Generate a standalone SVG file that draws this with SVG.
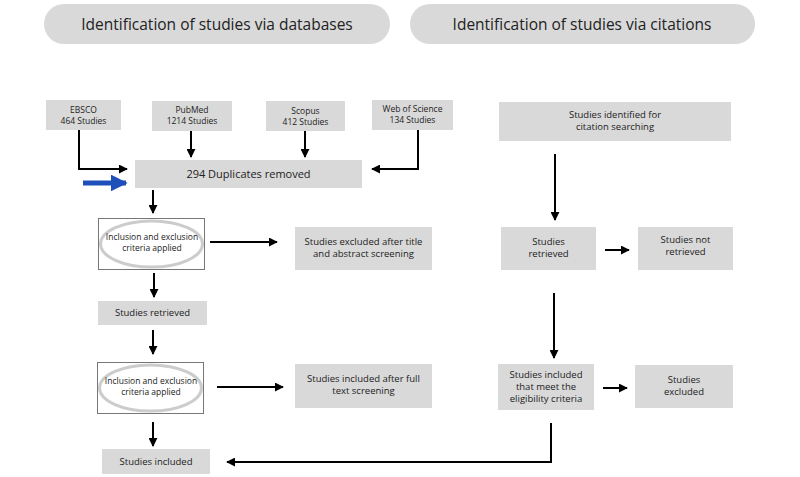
<svg xmlns="http://www.w3.org/2000/svg" width="800" height="477" viewBox="0 0 800 477">
<style>
.box{fill:#d9d9d9}
.pill{fill:#d9d9d9}
text{font-family:"Open Sans","Noto Sans",sans-serif;fill:#222;text-anchor:middle}
.h{font-size:15.5px}
.s{font-size:8.5px}
.m{font-size:9.5px}
.d{font-size:11px}
.ln{stroke:#000;stroke-width:2;fill:none}
.ol{fill:#fff;stroke:#777;stroke-width:1}
.el{fill:none;stroke:#ccc;stroke-width:3}
</style>
<defs>
<marker id="ah" viewBox="0 0 10 10" refX="9" refY="5" markerWidth="4.5" markerHeight="4.5" orient="auto" markerUnits="strokeWidth">
<path d="M0,0 L10,5 L0,10 z" fill="#000"/>
</marker>
<marker id="bh" viewBox="0 0 10 10" refX="9" refY="5" markerWidth="3.4" markerHeight="3.4" orient="auto" markerUnits="strokeWidth">
<path d="M0,0 L10,5 L0,10 z" fill="#1f4fb8"/>
</marker>
</defs>
<rect width="800" height="477" fill="#fff"/>
<g id="hdr-db"><rect class="pill" x="44" y="4" width="346" height="40" rx="20"/><text class="h" x="217" y="30">Identification of studies via databases</text></g>
<g id="hdr-cit"><rect class="pill" x="410" y="4" width="345" height="40" rx="20"/><text class="h" x="582" y="30">Identification of studies via citations</text></g>

<g id="ebsco"><rect class="box" x="46" y="100" width="75" height="30"/><text class="s" x="83.5" y="113">EBSCO</text><text class="s" x="83.5" y="124">464 Studies</text></g>
<g id="pubmed"><rect class="box" x="152" y="101" width="80" height="30"/><text class="s" x="192" y="113">PubMed</text><text class="s" x="192" y="124">1214 Studies</text></g>
<g id="scopus"><rect class="box" x="266" y="101" width="79" height="30"/><text class="s" x="305.5" y="114">Scopus</text><text class="s" x="305.5" y="125">412 Studies</text></g>
<g id="wos"><rect class="box" x="372" y="100" width="81" height="30"/><text class="s" x="412.5" y="112">Web of Science</text><text class="s" x="412.5" y="123">134 Studies</text></g>
<g id="dup"><rect class="box" x="135" y="160" width="227" height="28"/><text class="d" x="248.5" y="178">294 Duplicates removed</text></g>

<g id="crit1"><rect class="ol" x="98.5" y="218.5" width="106" height="51"/><ellipse class="el" cx="151.5" cy="244" rx="51" ry="23"/><text class="s" x="152" y="240">Inclusion and exclusion</text><text class="s" x="152" y="251">criteria applied</text></g>
<g id="excl1"><rect class="box" x="295" y="227" width="137" height="43"/><text class="m" x="363.5" y="245">Studies excluded after title</text><text class="m" x="363.5" y="257">and abstract screening</text></g>
<g id="retr"><rect class="box" x="98" y="301" width="109" height="24"/><text class="m" x="152.5" y="316">Studies retrieved</text></g>
<g id="crit2"><rect class="ol" x="97.5" y="362.5" width="106" height="51"/><ellipse class="el" cx="150.5" cy="388" rx="51" ry="23"/><text class="s" x="151" y="384">Inclusion and exclusion</text><text class="s" x="151" y="395">criteria applied</text></g>
<g id="incl-full"><rect class="box" x="295" y="364" width="137" height="44"/><text class="m" x="363.5" y="382">Studies included after full</text><text class="m" x="363.5" y="394">text screening</text></g>
<g id="incl"><rect class="box" x="102" y="449" width="108" height="25"/><text class="m" x="156" y="465">Studies included</text></g>

<g id="cit"><rect class="box" x="499" y="102" width="232" height="39"/><text class="m" x="615" y="118">Studies identified for</text><text class="m" x="615" y="130">citation searching</text></g>
<g id="cretr"><rect class="box" x="501" y="227" width="95" height="43"/><text class="m" x="548.5" y="245">Studies</text><text class="m" x="548.5" y="257">retrieved</text></g>
<g id="cnot"><rect class="box" x="638" y="227" width="95" height="43"/><text class="m" x="685.5" y="243">Studies not</text><text class="m" x="685.5" y="255">retrieved</text></g>
<g id="celig"><rect class="box" x="498" y="364" width="96" height="46"/><text class="m" x="546" y="378">Studies included</text><text class="m" x="546" y="390">that meet the</text><text class="m" x="546" y="402">eligibility criteria</text></g>
<g id="cexcl"><rect class="box" x="635" y="365" width="98" height="43"/><text class="m" x="684" y="383">Studies</text><text class="m" x="684" y="395">excluded</text></g>

<g id="connectors">
<path class="ln" d="M79,130 V169 H127" marker-end="url(#ah)"/>
<path class="ln" d="M191,131 V157" marker-end="url(#ah)"/>
<path class="ln" d="M305,131 V157" marker-end="url(#ah)"/>
<path class="ln" d="M418,130 V169 H372" marker-end="url(#ah)"/>
<path d="M83,183 H126" stroke="#1f4fb8" stroke-width="5" fill="none" marker-end="url(#bh)"/>
<path class="ln" d="M153,190 V213" marker-end="url(#ah)"/>
<path class="ln" d="M210,242 H277" marker-end="url(#ah)"/>
<path class="ln" d="M154,273 V297" marker-end="url(#ah)"/>
<path class="ln" d="M153,330 V354" marker-end="url(#ah)"/>
<path class="ln" d="M217,387 H283" marker-end="url(#ah)"/>
<path class="ln" d="M153,422 V446" marker-end="url(#ah)"/>
<path class="ln" d="M555,154 V220" marker-end="url(#ah)"/>
<path class="ln" d="M605,250 H629" marker-end="url(#ah)"/>
<path class="ln" d="M554,293 V358" marker-end="url(#ah)"/>
<path class="ln" d="M603,388 H627" marker-end="url(#ah)"/>
<path class="ln" d="M551,423 V462 H227" marker-end="url(#ah)"/>
</g>
</svg>
